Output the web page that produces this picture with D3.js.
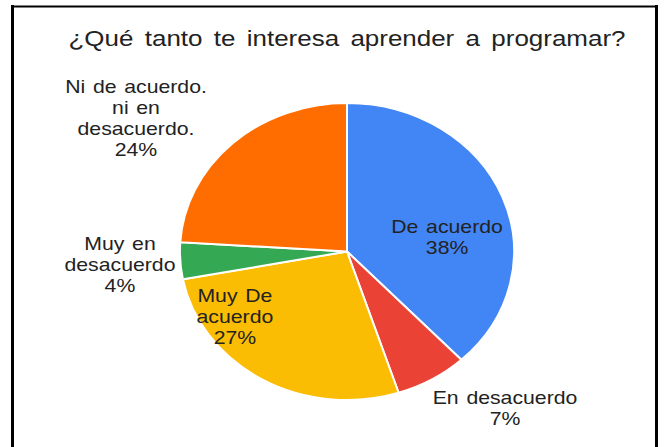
<!DOCTYPE html>
<html>
<head>
<meta charset="utf-8">
<script src="https://cdn.jsdelivr.net/npm/d3@7"></script>
<style>
    body { margin: 0; background: #fff; }
    text { font-family: "Liberation Sans", Arial, sans-serif; fill: #222; }
</style>
</head>
<body>
<script>
const title = "¿Qué tanto te interesa aprender a programar?";

const categories = ["De acuerdo", "En desacuerdo", "Muy De acuerdo", "Muy en desacuerdo", "Ni de acuerdo. ni en desacuerdo."];
const values = [38, 7, 27, 4, 24];
const colors = ["#4285f4", "#ea4335", "#fbbc04", "#34a853", "#ff6d01"];

// how each label is wrapped in the picture
const labelLines = [
    ["De acuerdo"],
    ["En desacuerdo"],
    ["Muy De", "acuerdo"],
    ["Muy en", "desacuerdo"],
    ["Ni de acuerdo.", "ni en", "desacuerdo."]
];

const width = 665, height = 447;
const cx = 347, cy = 251.5;
const radius = 148.5;
const stretch = 1.125;   // the picture is a bit wider than tall
const textStretch = 1.2;
const lineHeight = 21;

// first baseline of each label, as a fraction of the (stretched) radius
const labelPos = [
    [0.599, -0.125],
    [0.946, 1.027],
    [-0.671, 0.340],
    [-1.359, -0.010],
    [-1.263, -1.067]
];

const svg = d3.select("body").append("svg")
    .attr("width", width)
    .attr("height", height);

// frame
svg.append("line").attr("x1", 12.5).attr("x2", 12.5).attr("y1", 5).attr("y2", height)
    .attr("stroke", "#000").attr("stroke-width", 3);
svg.append("line").attr("x1", 11).attr("x2", 658).attr("y1", 6.5).attr("y2", 6.5)
    .attr("stroke", "#000").attr("stroke-width", 2);
svg.append("line").attr("x1", 656.5).attr("x2", 656.5).attr("y1", 5).attr("y2", height)
    .attr("stroke", "#000").attr("stroke-width", 3);

svg.append("text")
    .attr("transform", `translate(347,46) scale(1.18,1)`)
    .attr("text-anchor", "middle")
    .style("font-size", "22px")
    .style("word-spacing", "3.5px")
    .text(title);

const pie = d3.pie().sort(null).value(d => d);
const arcs = pie(values);
const arc = d3.arc().innerRadius(0).outerRadius(radius);

const pieG = svg.append("g")
    .attr("transform", `translate(${cx},${cy}) scale(${stretch},1)`);

pieG.selectAll("path")
    .data(arcs)
    .enter()
    .append("path")
    .attr("d", arc)
    .attr("fill", (d, i) => colors[i])
    .attr("stroke", "#fff")
    .attr("stroke-width", 2)
    .attr("vector-effect", "non-scaling-stroke");

const total = d3.sum(values);
const pct = d3.format(".0%");

const labels = svg.selectAll("g.label")
    .data(arcs)
    .enter()
    .append("g")
    .classed("label", true)
    .attr("transform", (d, i) => {
        const x = cx + labelPos[i][0] * radius * stretch;
        const y = cy + labelPos[i][1] * radius;
        return `translate(${x},${y}) scale(${textStretch},1)`;
    });

labels.append("text")
    .attr("text-anchor", "middle")
    .style("font-size", "17.7px")
    .style("word-spacing", "1.5px")
    .selectAll("tspan")
    .data((d, i) => labelLines[i].concat([pct(d.value / total)]))
    .enter()
    .append("tspan")
    .attr("x", 0)
    .attr("y", (d, j) => j * lineHeight)
    .text(d => d);
</script>
</body>
</html>
